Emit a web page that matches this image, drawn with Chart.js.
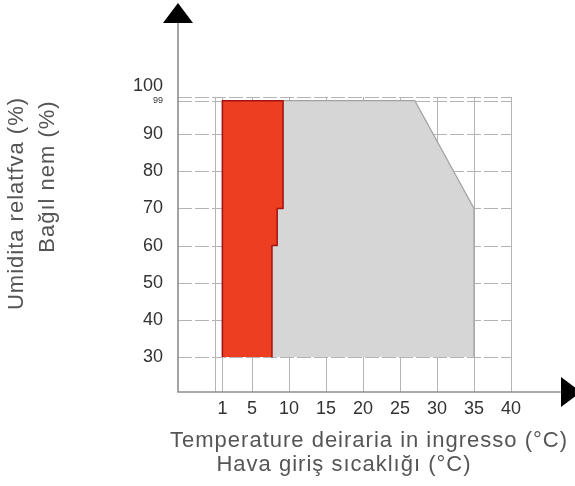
<!DOCTYPE html>
<html>
<head>
<meta charset="utf-8">
<script src="https://cdn.jsdelivr.net/npm/chart.js@4/dist/chart.umd.min.js"></script>
<style>
  html, body { margin: 0; padding: 0; background: #ffffff; }
  #wrap { width: 575px; height: 486px; position: relative; }
</style>
</head>
<body>
<div id="wrap"><canvas id="c" width="575" height="486"></canvas></div>
<script>
// ---- data ----
const xTicks = [1, 5, 10, 15, 20, 25, 30, 35, 40];
const xGridExtra = [0];
const yTicks = [30, 40, 50, 60, 70, 80, 90, 100];
const yExtraTick = 99;
const redTemp = [1, 1, 9.2, 9.2, 8.4, 8.4, 7.7, 7.7];
const redRH   = [30, 99, 99, 70, 70, 60, 60, 30];
const greyTemp = [1, 1, 27, 35, 35];
const greyRH   = [30, 99, 99, 70, 30];

const xTitle1 = 'Temperature deiraria in ingresso (°C)';
const xTitle2 = 'Hava giriş sıcaklığı (°C)';
const yTitle1 = 'Umidita relatfva (%)';
const yTitle2 = 'Bağıl nem (%)';

const FONT = '"Liberation Sans", Arial, sans-serif';

const toPts = (xs, ys) => xs.map((x, i) => ({ x: x, y: ys[i] }));

const gridPlugin = {
  id: 'customGrid',
  beforeDatasetsDraw(chart) {
    const { ctx, scales: { x, y }, chartArea } = chart;
    ctx.save();
    ctx.strokeStyle = '#b4b4b4';
    ctx.lineWidth = 1;
    const xEnd = x.getPixelForValue(40);
    const yTop = y.getPixelForValue(100);
    // horizontal lines
    ctx.setLineDash([14, 3]);
    [...yTicks, yExtraTick].forEach(v => {
      const py = Math.round(y.getPixelForValue(v)) + 0.5;
      ctx.beginPath();
      ctx.moveTo(chartArea.left, py);
      ctx.lineTo(xEnd, py);
      ctx.stroke();
    });
    // vertical lines
    ctx.setLineDash([]);
    [...xGridExtra, ...xTicks].forEach(v => {
      const px = Math.round(x.getPixelForValue(v)) + 0.5;
      ctx.beginPath();
      ctx.moveTo(px, chartArea.bottom);
      ctx.lineTo(px, yTop);
      ctx.stroke();
    });
    ctx.restore();
  },
  afterDatasetsDraw(chart) {
    const { ctx, chartArea } = chart;
    const ax = chartArea.left, ay = chartArea.bottom;
    ctx.save();
    ctx.strokeStyle = '#8e8e8e';
    ctx.lineWidth = 1.6;
    ctx.beginPath();
    ctx.moveTo(ax, 20);
    ctx.lineTo(ax, ay);
    ctx.lineTo(chartArea.right - 12, ay);
    ctx.stroke();
    ctx.fillStyle = '#000000';
    ctx.beginPath();
    ctx.moveTo(ax, 3);
    ctx.lineTo(ax - 15, 23);
    ctx.lineTo(ax + 15, 23);
    ctx.closePath();
    ctx.fill();
    ctx.beginPath();
    ctx.moveTo(561, ay - 15);
    ctx.lineTo(561, ay + 15);
    ctx.lineTo(581, ay);
    ctx.closePath();
    ctx.fill();
    ctx.restore();
  },
  afterDraw(chart) {
    const { ctx } = chart;
    ctx.save();
    ctx.fillStyle = '#555555';
    ctx.font = '22px ' + FONT;
    try { ctx.letterSpacing = '1px'; } catch (e) {}
    ctx.textAlign = 'center';
    ctx.textBaseline = 'alphabetic';
    ctx.fillText(xTitle1, 369, 447);
    ctx.fillText(xTitle2, 344, 471);
    ctx.save();
    ctx.translate(23, 203.5);
    ctx.rotate(-Math.PI / 2);
    ctx.fillText(yTitle1, 0, 0);
    ctx.restore();
    ctx.save();
    ctx.translate(54, 176.5);
    ctx.rotate(-Math.PI / 2);
    ctx.fillText(yTitle2, 0, 0);
    ctx.restore();
    ctx.restore();
  }
};

new Chart(document.getElementById('c'), {
  type: 'scatter',
  data: {
    datasets: [
      {
        data: toPts(redTemp, redRH),
        showLine: true,
        fill: 'shape',
        backgroundColor: '#ee3e22',
        borderColor: '#a31212',
        borderWidth: 1.5,
        borderJoinStyle: 'round',
        pointRadius: 0,
        tension: 0,
        order: 0
      },
      {
        data: toPts(greyTemp, greyRH),
        showLine: true,
        fill: 'shape',
        backgroundColor: '#d6d6d6',
        borderColor: '#a2a2a2',
        borderWidth: 1.2,
        pointRadius: 0,
        tension: 0,
        order: 1
      }
    ]
  },
  options: {
    responsive: false,
    animation: false,
    events: [],
    layout: { padding: 0, autoPadding: false },
    plugins: { legend: { display: false }, tooltip: { enabled: false }, title: { display: false } },
    scales: {
      x: {
        type: 'linear',
        position: 'bottom',
        min: -5,
        max: 48.65,
        grid: { display: false, drawTicks: false },
        border: { display: false },
        afterBuildTicks(scale) { scale.ticks = xTicks.map(v => ({ value: v })); },
        afterFit(scale) { scale.height = 94; scale.paddingLeft = 0; scale.paddingRight = 0; },
        ticks: {
          autoSkip: false,
          maxRotation: 0,
          padding: 6,
          color: '#333333',
          font: { family: FONT, size: 18 },
          callback: (v) => String(v)
        }
      },
      y: {
        type: 'linear',
        position: 'left',
        min: 20.6,
        max: 126.1,
        grid: { display: false, drawTicks: false },
        border: { display: false },
        afterBuildTicks(scale) {
          scale.ticks = [...yTicks, yExtraTick].map(v => ({ value: v }));
        },
        afterFit(scale) { scale.width = 178; scale.paddingTop = 0; scale.paddingBottom = 0; },
        ticks: {
          autoSkip: false,
          padding: 15,
          color: '#333333',
          font: (c) => ({ family: FONT, size: (c.tick && c.tick.value === yExtraTick) ? 9 : 18 }),
          callback: (v) => (v === 100 ? ['100', ''] : String(v))
        }
      }
    }
  },
  plugins: [gridPlugin]
});
</script>
</body>
</html>
